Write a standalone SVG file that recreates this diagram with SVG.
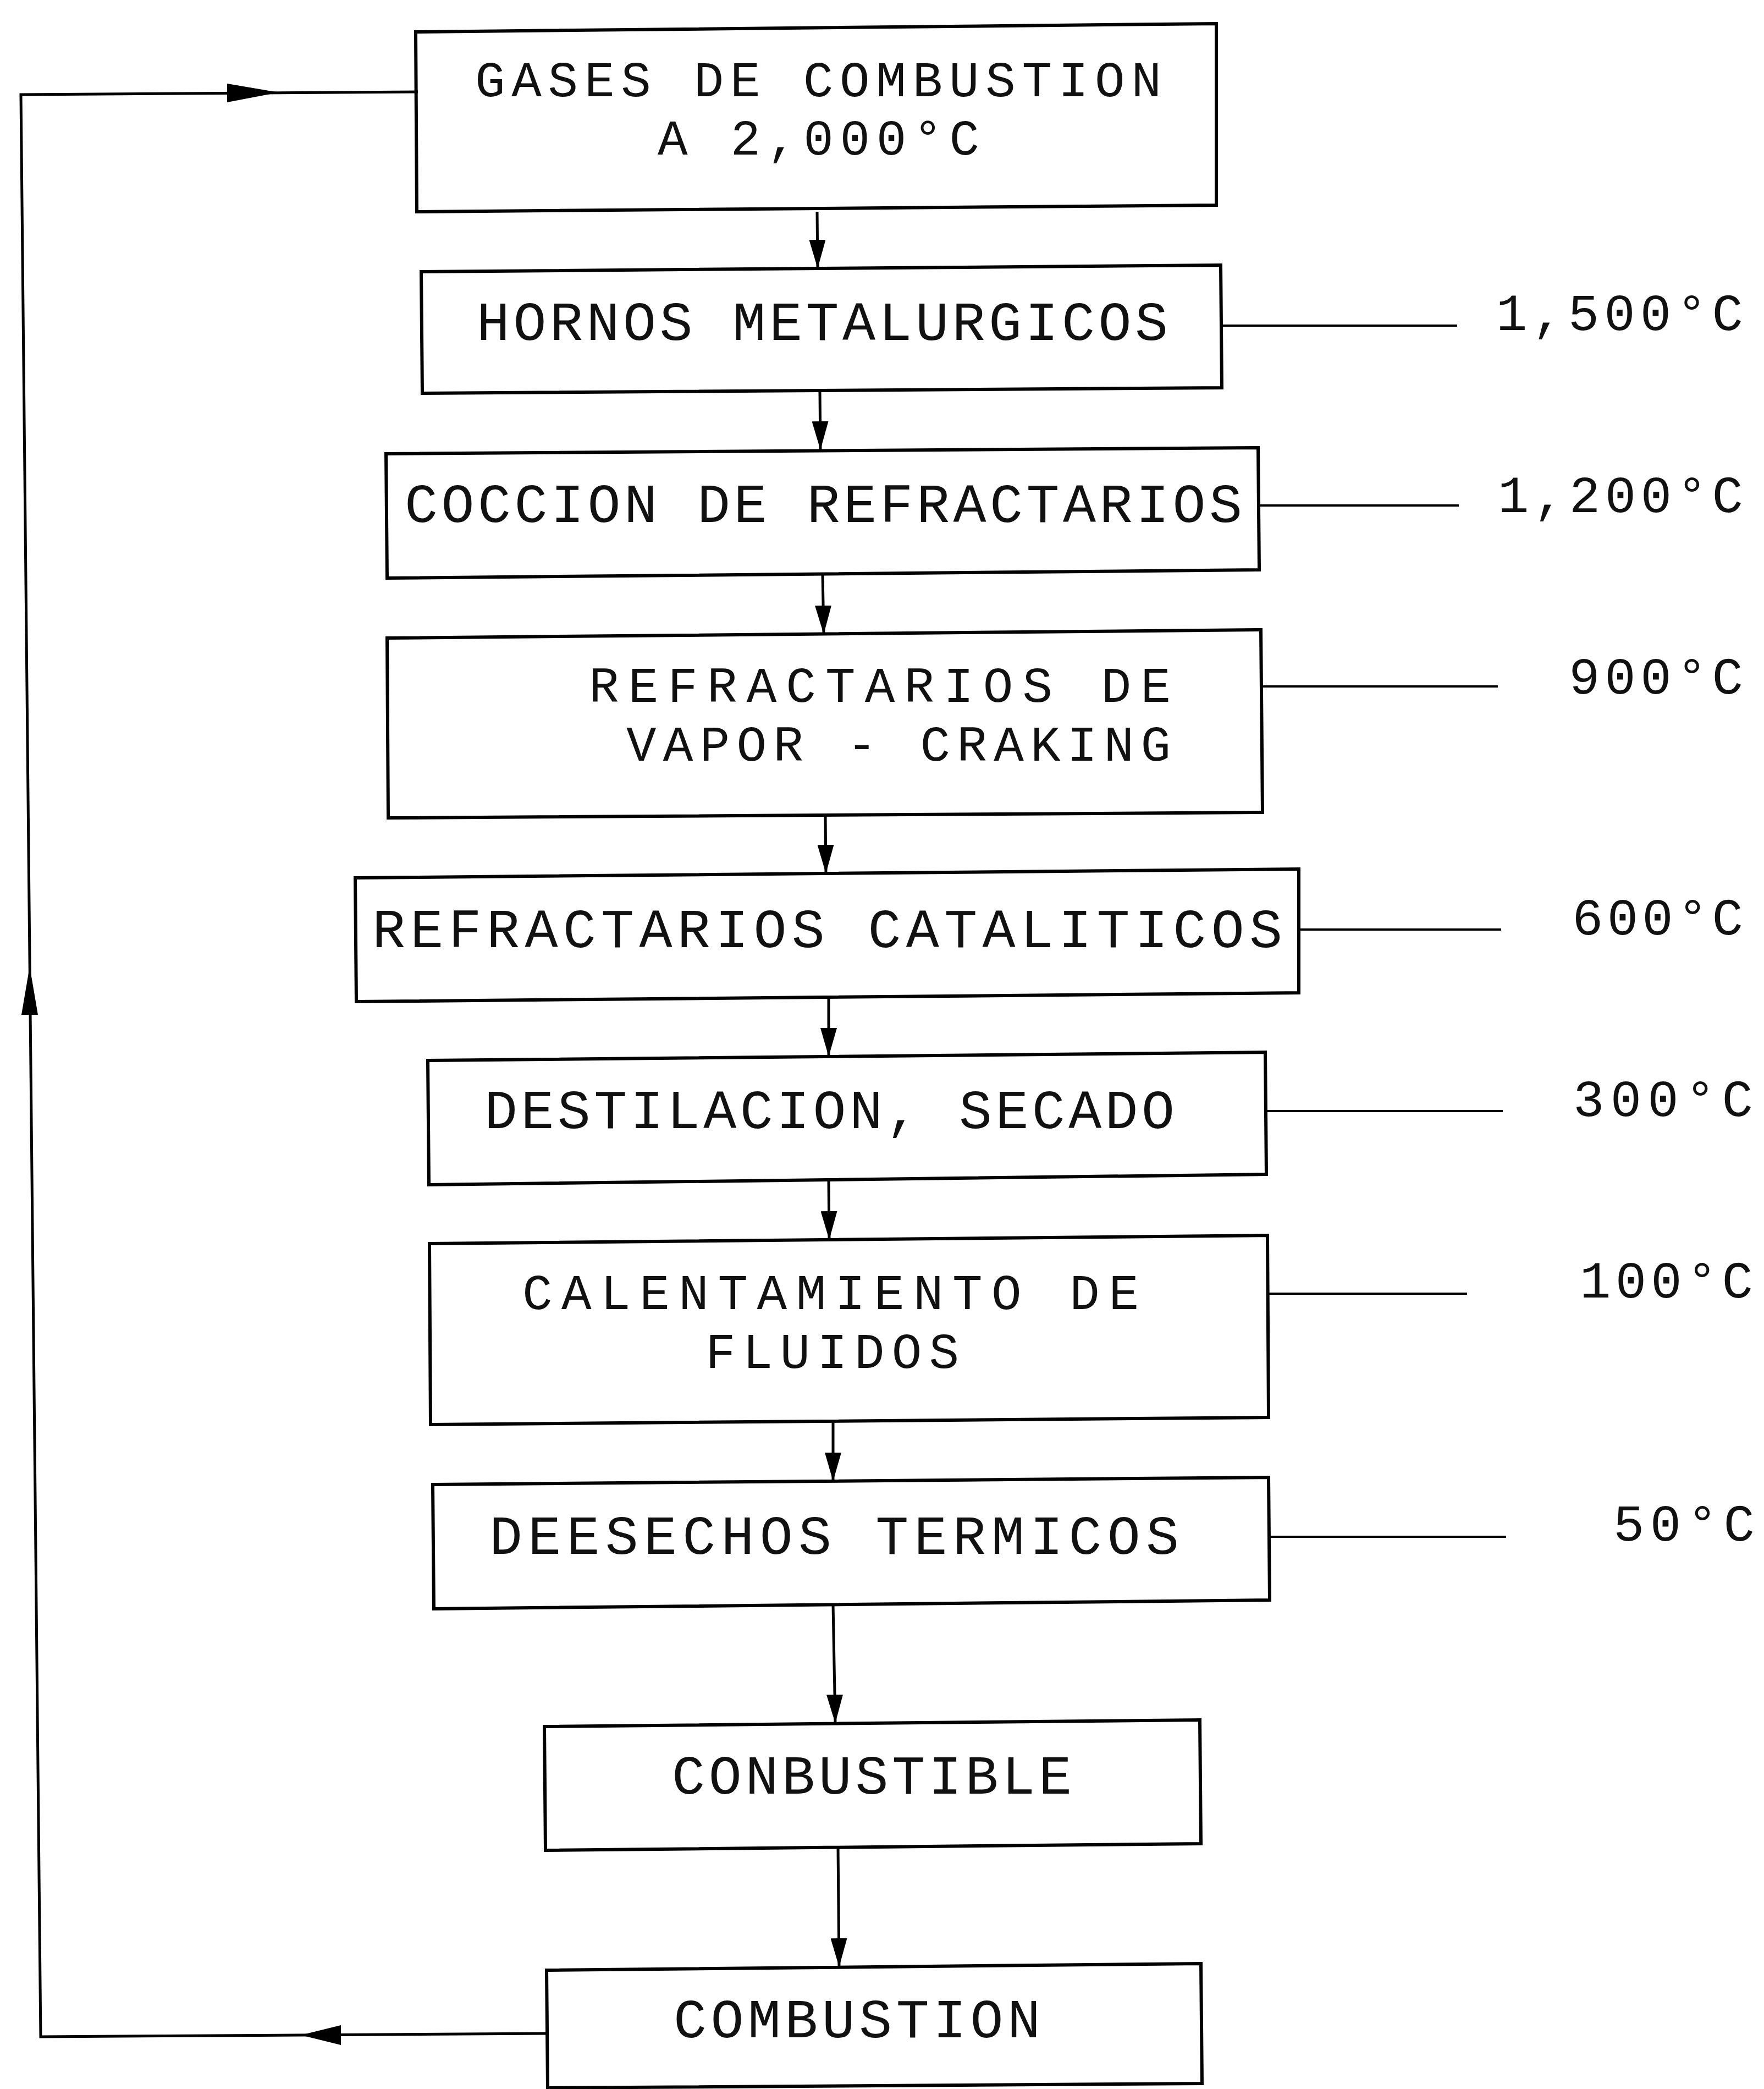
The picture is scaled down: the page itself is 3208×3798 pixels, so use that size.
<svg xmlns="http://www.w3.org/2000/svg" width="3208" height="3798" viewBox="0 0 3208 3798">
<defs>
<style>
.box{fill:none;stroke:#000;stroke-width:6;stroke-linejoin:miter}
.conn{fill:none;stroke:#000;stroke-width:5}
.lead{fill:none;stroke:#000;stroke-width:4}
.head{fill:#000;stroke:none}
.t{font-family:"Liberation Mono","DejaVu Sans Mono",monospace;font-size:100px;fill:#111}
.t2{font-family:"Liberation Mono","DejaVu Sans Mono",monospace;font-size:91px;fill:#111}
.tmp{font-family:"Liberation Mono","DejaVu Sans Mono",monospace;font-size:94px;fill:#111}
</style>
<marker id="ah" viewBox="0 0 52 30" refX="52" refY="15" markerWidth="52" markerHeight="30" markerUnits="userSpaceOnUse" orient="auto">
<path d="M0,0 L52,15 L0,30 z" fill="#000"/>
</marker>
</defs>
<rect width="3208" height="3798" fill="#fff"/>

<g id="connectors">
<path class="conn" d="M1486,385 L1487,488" marker-end="url(#ah)"/>
<path class="conn" d="M1491,710 L1492,818" marker-end="url(#ah)"/>
<path class="conn" d="M1496,1044 L1498,1153" marker-end="url(#ah)"/>
<path class="conn" d="M1501,1482 L1502,1588" marker-end="url(#ah)"/>
<path class="conn" d="M1507,1813 L1507,1921" marker-end="url(#ah)"/>
<path class="conn" d="M1507,2145 L1508,2254" marker-end="url(#ah)"/>
<path class="conn" d="M1515,2584 L1515,2693" marker-end="url(#ah)"/>
<path class="conn" d="M1515,2917 L1519,3133" marker-end="url(#ah)"/>
<path class="conn" d="M1524,3358 L1526,3576" marker-end="url(#ah)"/>
<path class="conn" d="M996,3697 L74,3703 L38,172 L760,167"/>
<polygon class="head" points="547,3700 620,3682 620,3718"/>
<polygon class="head" points="54,1757 39,1845 69,1845"/>
<polygon class="head" points="507,168 413,152 413,186"/>
<path class="lead" d="M2221,592 L2650,592"/>
<path class="lead" d="M2290,919 L2653,919"/>
<path class="lead" d="M2296,1248 L2724,1248"/>
<path class="lead" d="M2362,1690 L2730,1690"/>
<path class="lead" d="M2302,2020 L2733,2020"/>
<path class="lead" d="M2306,2352 L2668,2352"/>
<path class="lead" d="M2309,2794 L2739,2794"/>
</g>

<g id="n1">
<path class="box" d="M756,58 L2212,43 L2212,373 L758,385 Z"/>
<text class="t2" x="864" y="175" textLength="1248" lengthAdjust="spacing">GASES DE COMBUSTION</text>
<text class="t2" x="1196" y="281" textLength="585" lengthAdjust="spacing">A 2,000°C</text>
</g>
<g id="n2">
<path class="box" d="M766,494 L2220,482 L2222,705 L768,715 Z"/>
<text class="t" x="867" y="618" textLength="1257" lengthAdjust="spacing">HORNOS METALURGICOS</text>
</g>
<g id="n3">
<path class="box" d="M702,825 L2288,814 L2290,1036 L704,1051 Z"/>
<text class="t" x="736" y="949" textLength="1523" lengthAdjust="spacing">COCCION DE REFRACTARIOS</text>
</g>
<g id="n4">
<path class="box" d="M704,1160 L2293,1145 L2296,1477 L706,1487 Z"/>
<text class="t2" x="1071" y="1276" textLength="1058" lengthAdjust="spacing">REFRACTARIOS  DE</text>
<text class="t2" x="1139" y="1383" textLength="990" lengthAdjust="spacing">VAPOR - CRAKING</text>
</g>
<g id="n5">
<path class="box" d="M646,1596 L2362,1580 L2362,1805 L648,1821 Z"/>
<text class="t" x="677" y="1722" textLength="1655" lengthAdjust="spacing">REFRACTARIOS  CATALITICOS</text>
</g>
<g id="n6">
<path class="box" d="M778,1928 L2301,1913 L2303,2135 L780,2154 Z"/>
<text class="t" x="881" y="2051" textLength="1255" lengthAdjust="spacing">DESTILACION, SECADO</text>
</g>
<g id="n7">
<path class="box" d="M781,2261 L2305,2246 L2307,2577 L783,2590 Z"/>
<text class="t2" x="950" y="2380" textLength="1121" lengthAdjust="spacing">CALENTAMIENTO  DE</text>
<text class="t2" x="1283" y="2487" textLength="461" lengthAdjust="spacing">FLUIDOS</text>
</g>
<g id="n8">
<path class="box" d="M787,2699 L2307,2686 L2309,2909 L789,2925 Z"/>
<text class="t" x="890" y="2825" textLength="1254" lengthAdjust="spacing">DEESECHOS  TERMICOS</text>
</g>
<g id="n9">
<path class="box" d="M990,3139 L2182,3127 L2184,3352 L992,3364 Z"/>
<text class="t" x="1222" y="3261" textLength="727" lengthAdjust="spacing">CONBUSTIBLE</text>
</g>
<g id="n10">
<path class="box" d="M994,3582 L2184,3570 L2186,3788 L996,3796 Z"/>
<text class="t" x="1225" y="3704" textLength="667" lengthAdjust="spacing">COMBUSTION</text>
</g>

<g id="temps">
<text class="tmp" x="2721" y="600" textLength="449" lengthAdjust="spacing">1,500°C</text>
<text class="tmp" x="2724" y="931" textLength="446" lengthAdjust="spacing">1,200°C</text>
<text class="tmp" x="2853" y="1261" textLength="317" lengthAdjust="spacing">900°C</text>
<text class="tmp" x="2859" y="1699" textLength="311" lengthAdjust="spacing">600°C</text>
<text class="tmp" x="2861" y="2029" textLength="327" lengthAdjust="spacing">300°C</text>
<text class="tmp" x="2873" y="2359" textLength="315" lengthAdjust="spacing">100°C</text>
<text class="tmp" x="2934" y="2801" textLength="257" lengthAdjust="spacing">50°C</text>
</g>
</svg>
